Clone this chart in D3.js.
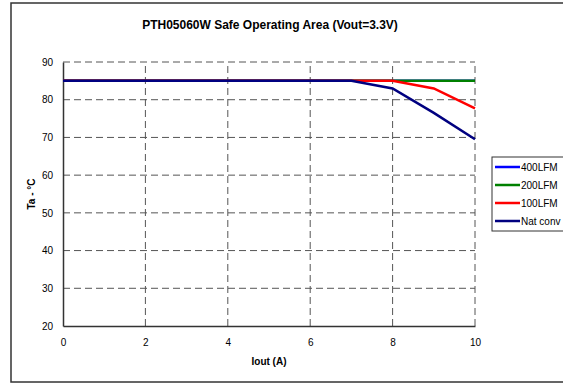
<!DOCTYPE html>
<html>
  <head>
    <title> PTH05060W Safe Operating Area </title>
    <script src="https://d3js.org/d3.v7.min.js"></script>
    <style>
      body { margin: 0; background: white; }
      text {
        font-family: "Liberation Sans", Arial, sans-serif;
        font-size: 10px;
        fill: black;
      }
      .grid line { stroke: #555; stroke-dasharray: 7,4; stroke-width: 1; }
      .axis path { stroke: #333; stroke-width: 1.5; }
    </style>
  </head>
  <body>
    <svg id="main" width="563" height="385"></svg>
    <script>

      var iout = [0, 1, 2, 3, 4, 5, 6, 7, 8, 9, 10];
      var lfm400 = [85, 85, 85, 85, 85, 85, 85, 85, 85, 85, 85];
      var lfm200 = [85, 85, 85, 85, 85, 85, 85, 85, 85, 85, 85];
      var lfm100 = [85, 85, 85, 85, 85, 85, 85, 85, 85, 83, 77.7];
      var natConv = [85, 85, 85, 85, 85, 85, 85, 85, 83, 76.5, 69.5];
      var seriesNames = ['400LFM', '200LFM', '100LFM', 'Nat conv'];
      var seriesColors = ['#0000ff', '#008000', '#ff0000', '#000080'];
      var xTicks = [0, 2, 4, 6, 8, 10];
      var yTicks = [20, 30, 40, 50, 60, 70, 80, 90];

      var svg = d3.select('#main');

      // chart area border
      svg.append('rect')
        .attr('x', 11).attr('y', 3)
        .attr('width', 570).attr('height', 379)
        .attr('fill', 'white')
        .attr('stroke', '#333').attr('stroke-width', 1.5);

      var x = d3.scaleLinear().domain([0, 10]).range([63, 475]);
      var y = d3.scaleLinear().domain([20, 90]).range([326, 62]);

      // gridlines
      var grid = svg.append('g').attr('class', 'grid');
      grid.selectAll('.hg')
        .data(yTicks.slice(1))
        .enter().append('line')
        .attr('x1', x(0)).attr('x2', x(10))
        .attr('y1', function(d) { return y(d); })
        .attr('y2', function(d) { return y(d); });
      grid.selectAll('.vg')
        .data(xTicks.slice(1))
        .enter().append('line')
        .attr('y1', y(20)).attr('y2', y(90))
        .attr('x1', function(d) { return x(d); })
        .attr('x2', function(d) { return x(d); });

      // axes
      var xAxis = svg.append('g')
        .attr('class', 'axis')
        .attr('transform', 'translate(0,' + y(20) + ')')
        .call(d3.axisBottom(x).tickValues(xTicks).tickSize(0).tickPadding(13));

      var yAxis = svg.append('g')
        .attr('class', 'axis')
        .attr('transform', 'translate(' + x(0) + ',0)')
        .call(d3.axisLeft(y).tickValues(yTicks).tickSize(0).tickPadding(10));
      svg.selectAll('.axis').attr('font-family', null).attr('font-size', null);

      // series
      var allSeries = [lfm400, lfm200, lfm100, natConv];
      var line = d3.line()
        .x(function(d, i) { return x(iout[i]); })
        .y(function(d) { return y(d); });

      svg.selectAll('.series')
        .data(allSeries)
        .enter().append('path')
        .attr('class', 'series')
        .attr('d', line)
        .attr('fill', 'none')
        .attr('stroke', function(d, i) { return seriesColors[i]; })
        .attr('stroke-width', 2.5);

      // titles
      svg.append('text')
        .attr('x', 270).attr('y', 29)
        .attr('text-anchor', 'middle')
        .style('font-size', '12px').style('font-weight', 'bold')
        .text('PTH05060W Safe Operating Area (Vout=3.3V)');

      svg.append('text')
        .attr('x', 269).attr('y', 365)
        .attr('text-anchor', 'middle')
        .style('font-weight', 'bold')
        .text('Iout (A)');

      svg.append('text')
        .attr('transform', 'translate(35,194) rotate(-90)')
        .attr('text-anchor', 'middle')
        .style('font-weight', 'bold')
        .text('Ta - °C');

      // legend
      var legend = svg.append('g').attr('transform', 'translate(492,157)');
      legend.append('rect')
        .attr('width', 100).attr('height', 74)
        .attr('fill', 'white')
        .attr('stroke', '#333').attr('stroke-width', 1);
      var items = legend.selectAll('.item')
        .data(seriesNames)
        .enter().append('g')
        .attr('transform', function(d, i) { return 'translate(0,' + (10 + i * 18) + ')'; });
      items.append('line')
        .attr('x1', 3).attr('x2', 28)
        .attr('stroke', function(d, i) { return seriesColors[i]; })
        .attr('stroke-width', 2.5);
      items.append('text')
        .attr('x', 29).attr('y', 3.5)
        .text(function(d) { return d; });

    </script>
  </body>
</html>
